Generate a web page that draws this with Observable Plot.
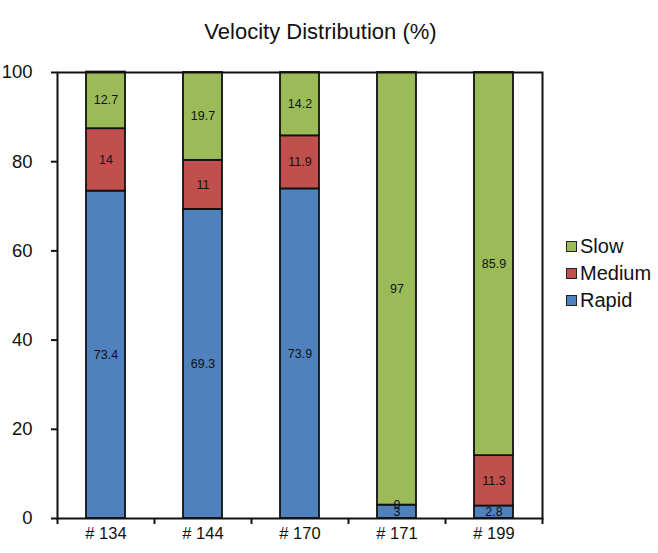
<!DOCTYPE html>
<html><head><meta charset="utf-8">
<script src="https://cdn.jsdelivr.net/npm/d3@7"></script>
<script src="https://cdn.jsdelivr.net/npm/@observablehq/plot@0.6"></script>
<style>
body{margin:0;background:#fff;}
#wrap{position:relative;width:658px;height:553px;font-family:"Liberation Sans",Arial,sans-serif;color:#111;}
#wrap svg{position:absolute;left:0;top:0;}
#title{position:absolute;left:0;width:641px;top:21px;text-align:center;font-size:22px;line-height:22px;}
.lg{position:absolute;left:566px;font-size:20px;line-height:20px;display:flex;align-items:center;}
.sw{width:9px;height:9px;border:1px solid #222;margin-right:3px;margin-top:1px;}
</style></head>
<body>
<div id="wrap">
  <div id="title">Velocity Distribution (%)</div>
  <div id="legend"></div>
</div>
<script>
const categories = ["# 134", "# 144", "# 170", "# 171", "# 199"];
const series = ["Rapid", "Medium", "Slow"];
const rapid  = [73.4, 69.3, 73.9, 3, 2.8];
const medium = [14, 11, 11.9, 0, 11.3];
const slow   = [12.7, 19.7, 14.2, 97, 85.9];
const colors = ["#4F81BD", "#C0504D", "#9BBB59"];
const yTicks = [0, 20, 40, 60, 80, 100];
const legendOrder = ["Slow", "Medium", "Rapid"];

const seriesValues = [rapid, medium, slow];
const data = [];
series.forEach((s, i) => categories.forEach((c, j) => data.push({cat: c, series: s, value: seriesValues[i][j]})));

const W = 658, H = 553, mL = 57, mR = 116, mT = 72, mB = 35;
const step = (W - mL - mR) / categories.length;

const chart = Plot.plot({
  width: W, height: H,
  marginLeft: mL, marginRight: mR, marginTop: mT, marginBottom: mB,
  style: {fontFamily: "Liberation Sans, Arial, sans-serif", background: "transparent", color: "#111"},
  x: {domain: categories, paddingInner: 0.6, paddingOuter: 0.29, label: null},
  y: {domain: [0, 100], label: null},
  color: {domain: series, range: colors},
  marks: [
    Plot.barY(data, {x: "cat", y: "value", fill: "series", stroke: "#111", strokeWidth: 1.8, order: series}),
    Plot.text(data, Plot.stackY({x: "cat", y: "value", z: "series", order: series, text: d => String(d.value), fontSize: 12.5, fill: "#111"})),
    Plot.frame({stroke: "#111", strokeWidth: 2}),
    Plot.axisY({ticks: yTicks, tickSize: 6, tickPadding: 19, fontSize: 18.5, strokeWidth: 2, label: null}),
    Plot.axisX({tickSize: 0, tickPadding: 9, fontSize: 16.5, label: null}),
    Plot.ruleX(categories, {x: d => d, dx: -step / 2, y1: 0, y2: -1.35, stroke: "#111", strokeWidth: 2}),
    Plot.ruleX(categories.slice(-1), {x: d => d, dx: step / 2, y1: 0, y2: -1.35, stroke: "#111", strokeWidth: 2})
  ]
});
document.getElementById("wrap").appendChild(chart);

const lg = document.getElementById("legend");
legendOrder.forEach((s, i) => {
  const row = document.createElement("div");
  row.className = "lg";
  row.style.top = (236 + i * 27) + "px";
  const sw = document.createElement("span");
  sw.className = "sw";
  sw.style.background = colors[series.indexOf(s)];
  row.appendChild(sw);
  row.appendChild(document.createTextNode(s));
  lg.appendChild(row);
});
</script>
</body></html>
